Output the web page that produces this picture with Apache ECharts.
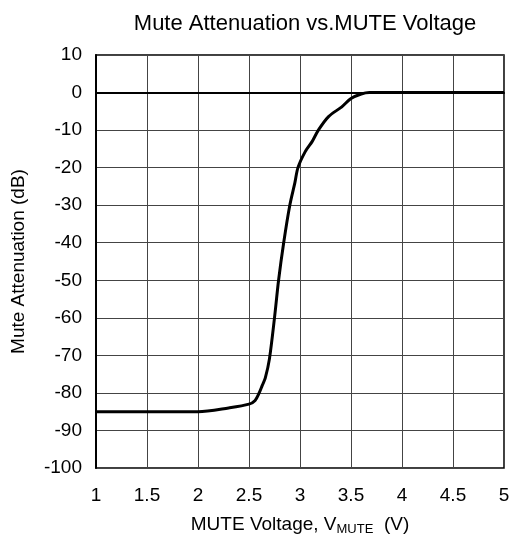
<!DOCTYPE html>
<html>
<head>
<meta charset="utf-8">
<script src="https://cdn.jsdelivr.net/npm/echarts@6/dist/echarts.min.js"></script>
<style>
  html, body { margin: 0; padding: 0; background: #fff; }
  #chart { width: 512px; height: 539px; }
</style>
</head>
<body>
<div id="chart"></div>
<script>
// 曲线数据
const voltage = [1, 2, 2.3, 2.5, 2.56, 2.6, 2.63, 2.66, 2.7, 2.75, 2.79, 2.84, 2.9, 2.95, 2.98, 3.05, 3.12, 3.18, 3.28, 3.41, 3.5, 3.6, 3.68, 5];
const attenuation = [-85, -85, -84, -83, -82, -80, -78, -76, -71, -60, -50, -40, -30, -24, -20, -15.8, -13, -10, -6.4, -3.8, -1.6, -0.4, 0, 0];

const xTicks = [1, 1.5, 2, 2.5, 3, 3.5, 4, 4.5, 5];
const yTicks = [10, 0, -10, -20, -30, -40, -50, -60, -70, -80, -90, -100];

const font = "'Liberation Sans', Arial, sans-serif";

const chart = echarts.init(document.getElementById("chart"));

const option = {
  animation: false,
  title: {
    text: "Mute Attenuation vs.MUTE Voltage",
    left: 300,
    top: 8,
    textAlign: "center",
    textStyle: { fontFamily: font, fontSize: 22, fontWeight: "normal", color: "#000" },
  },
  grid: {
    left: 96,
    right: 8,
    top: 55,
    bottom: 71,
    outerBoundsMode: "none",
    show: true,
    borderColor: "#000",
    borderWidth: 1.5,
  },
  xAxis: {
    type: "value",
    min: xTicks[0],
    max: xTicks[xTicks.length - 1],
    interval: 0.5,
    name: "MUTE Voltage, V{sub|MUTE}  (V)",
    nameLocation: "middle",
    nameGap: 46,
    nameTextStyle: {
      fontFamily: font,
      fontSize: 19,
      color: "#000",
      rich: {
        sub: { fontFamily: font, fontSize: 13, color: "#000", padding: [9, 0, 0, 0] },
      },
    },
    axisLine: { lineStyle: { color: "#000", width: 2 } },
    axisTick: { show: false },
    axisLabel: { fontFamily: font, fontSize: 19, color: "#000", margin: 18 },
    splitLine: { lineStyle: { color: "#444", width: 1 } },
  },
  yAxis: {
    type: "value",
    min: yTicks[yTicks.length - 1],
    max: yTicks[0],
    interval: 10,
    name: "Mute Attenuation (dB)",
    nameLocation: "middle",
    nameGap: 68,
    nameTextStyle: { fontFamily: font, fontSize: 19, color: "#000" },
    axisLine: { show: true, lineStyle: { color: "#000", width: 2 } },
    axisTick: { show: false },
    axisLabel: { fontFamily: font, fontSize: 19, color: "#000", margin: 14 },
    splitLine: { lineStyle: { color: "#444", width: 1 } },
  },
  series: [
    {
      type: "line",
      data: voltage.map((v, i) => [v, attenuation[i]]),
      showSymbol: false,
      smooth: 0.3,
      lineStyle: { color: "#000", width: 3 },
    },
  ],
};

chart.setOption(option);
</script>
</body>
</html>
